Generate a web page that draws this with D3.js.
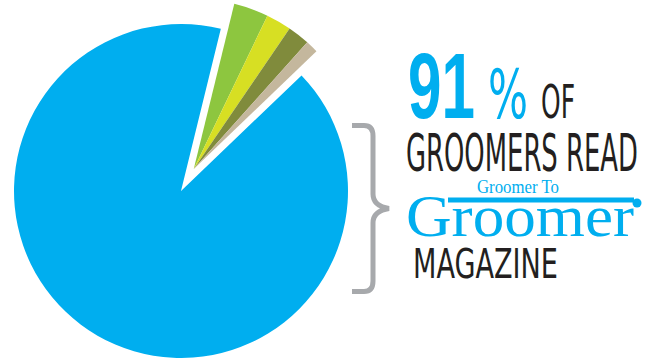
<!DOCTYPE html>
<html>
<head>
<meta charset="utf-8">
<script src="https://cdn.jsdelivr.net/npm/d3@7"></script>
<style>
  html, body { margin: 0; padding: 0; background: #fff; }
  svg { display: block; }
</style>
</head>
<body>
<svg id="chart" width="652" height="358"></svg>
<script>
// ---- data ----
const categories = ["Read Groomer to Groomer", "Other A", "Other B", "Other C", "Other D"];
const values = [91, 3.3, 2.4, 2.1, 1.2];
const colors = ["#00AEEF", "#8DC63F", "#D7DF23", "#808B3C", "#C4B79D"];
const headline = ["91", "%", "OF"];
const lines = ["GROOMERS READ", "Groomer To", "Groomer", "MAGAZINE"];

// ---- layout ----
const svg = d3.select("#chart");
const cx = 181, cy = 191, R = 167, Rx = 170, explode = 25.5;
const deg = Math.PI / 180;
const start = 46.2 * deg;

const pie = d3.pie().sort(null).value(d => d).startAngle(start).endAngle(start + 2 * Math.PI);
const arcs = pie(values);

const g = svg.append("g").attr("transform", `translate(${cx},${cy})`);

g.append("path")
  .attr("d", d3.arc().innerRadius(0).outerRadius(R)(arcs[0]))
  .attr("fill", colors[0]);

const small = arcs.slice(1);
const a0 = small[0].startAngle, a1 = small[small.length - 1].endAngle;
const mid = (a0 + a1) / 2;
const ex = g.append("g")
  .attr("transform", `translate(${explode * Math.sin(mid)},${-explode * Math.cos(mid)})`);
ex.selectAll("path").data(small).join("path")
  .attr("d", d3.arc().innerRadius(0).outerRadius(Rx))
  .attr("fill", (d, i) => colors[i + 1]);

// ---- brace ----
svg.append("path")
  .attr("d", "M352,125.5 L364,125.5 Q373,125.5 373,136 L373,194 Q373,206 389,208.5 Q373,211 373,223 L373,281 Q373,291.5 364,291.5 L352,291.5")
  .attr("fill", "none")
  .attr("stroke", "#A7A9AC")
  .attr("stroke-width", 5);

// ---- text ----
const condensed = "'Liberation Sans Narrow', 'DejaVu Sans Condensed', 'Roboto', sans-serif";
const serif = "'Liberation Serif', 'DejaVu Serif', serif";
const dark = "#231F20";
const blue = colors[0];

// text squeezed horizontally to the target width with a scale transform
function txt(s, x, y, size, len, opts = {}) {
  const grp = svg.append("g");
  const t = grp.append("text")
    .attr("x", 0).attr("y", 0)
    .attr("font-size", size)
    .attr("font-family", opts.family || condensed)
    .attr("font-weight", opts.weight || "normal")
    .attr("fill", opts.fill || dark)
    .text(s);
  const natural = t.node().getComputedTextLength();
  const sx = natural > 0 ? len / natural : 1;
  grp.attr("transform", `translate(${x},${y}) scale(${sx},1)`);
  return t;
}

txt(headline[0], 408, 118, 93, 67, { weight: "bold", fill: blue, family: "'Liberation Sans', Arial, sans-serif" });
txt(headline[1], 488, 118, 68, 40, { fill: blue });
txt(headline[2], 541, 118, 46, 34);
txt(lines[0], 406, 171, 52, 232);
txt(lines[1], 477, 193, 18, 82, { fill: blue, family: serif });
txt(lines[2], 406, 236, 60, 228, { fill: blue, family: serif });
svg.append("rect").attr("x", 448).attr("y", 197.5).attr("width", 186).attr("height", 5).attr("fill", blue);
svg.append("circle").attr("cx", 637).attr("cy", 203).attr("r", 4.5).attr("fill", blue);
txt(lines[3], 413, 278, 41, 145);
</script>
</body>
</html>
